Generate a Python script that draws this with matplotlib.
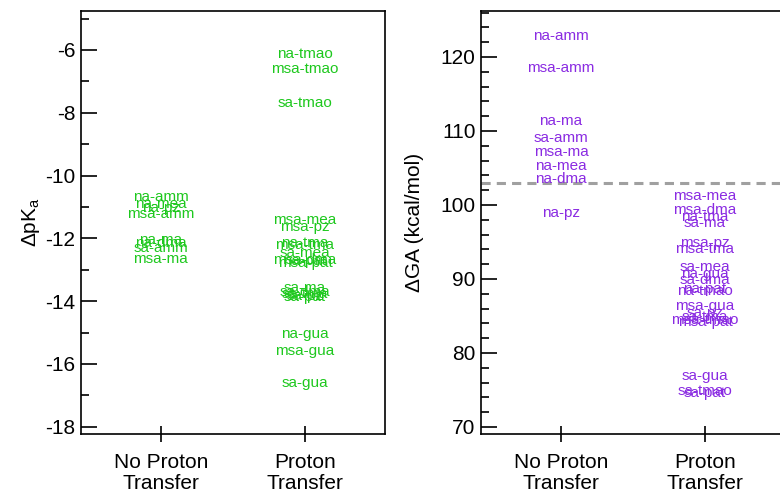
import matplotlib.pyplot as plt
from matplotlib.ticker import MultipleLocator

plt.rcParams['font.family'] = ['Liberation Sans', 'DejaVu Sans']
plt.rcParams['mathtext.fontset'] = 'custom'
plt.rcParams['mathtext.rm'] = 'Liberation Sans'
plt.rcParams['mathtext.it'] = 'Liberation Sans:italic'
plt.rcParams['axes.unicode_minus'] = False

categories = ['No Proton\nTransfer', 'Proton\nTransfer']

# delta pKa, clusters without / with proton transfer
pka_no_pt_names = ['na-amm', 'na-mea', 'na-pz', 'msa-amm',
                   'na-ma', 'na-dma', 'sa-amm', 'msa-ma']
pka_no_pt = [-10.68, -10.90, -11.03, -11.22, -12.05, -12.15, -12.31, -12.66]

pka_pt_names = ['na-tmao', 'msa-tmao', 'sa-tmao', 'msa-mea', 'msa-pz',
                'na-tma', 'msa-tma', 'sa-mea', 'msa-dma', 'na-pat', 'msa-pat',
                'sa-ma', 'sa-dma', 'sa-tma', 'sa-pz', 'sa-pat',
                'na-gua', 'msa-gua', 'sa-gua']
pka_pt = [-6.13, -6.61, -7.68, -11.43, -11.65,
          -12.15, -12.20, -12.47, -12.68, -12.72, -12.78,
          -13.59, -13.70, -13.78, -13.82, -13.86,
          -15.04, -15.58, -16.62]

# delta GA (kcal/mol)
ga_no_pt_names = ['na-amm', 'msa-amm', 'na-ma', 'sa-amm',
                  'msa-ma', 'na-mea', 'na-dma', 'na-pz']
ga_no_pt = [122.8, 118.5, 111.35, 109.1, 107.2, 105.3, 103.5, 98.9]

ga_pt_names = ['msa-mea', 'msa-dma', 'na-tma', 'sa-ma', 'msa-pz', 'msa-tma',
               'sa-mea', 'na-gua', 'sa-dma', 'na-pat', 'na-tmao',
               'msa-gua', 'sa-pz', 'sa-tma', 'msa-tmao', 'msa-pat',
               'sa-gua', 'sa-tmao', 'sa-pat']
ga_pt = [101.2, 99.3, 98.4, 97.6, 94.9, 94.1,
         91.6, 90.7, 89.9, 88.6, 88.4,
         86.3, 85.4, 84.9, 84.5, 84.2,
         76.9, 74.8, 74.6]

ga_threshold = 103.0

green = '#1ec81e'
purple = '#8a2be2'
fs = 15

fig = plt.figure(figsize=(7.8, 4.95), dpi=100)
ax1 = fig.add_axes([0.1038, 0.1232, 0.3897, 0.8545])
ax2 = fig.add_axes([0.6167, 0.1232, 0.3897, 0.8545])


def put_labels(ax, x, names, values, color):
    for name, v in zip(names, values):
        ax.text(x, v, name, ha='center', va='center', color=color,
                fontsize=11)


def style_axes(ax, major, minor):
    ax.set_xlim(-0.555, 1.555)
    ax.set_xticks([0, 1])
    ax.set_xticklabels(categories, fontsize=fs, linespacing=1.1)
    ax.yaxis.set_major_locator(MultipleLocator(major))
    ax.yaxis.set_minor_locator(MultipleLocator(minor))
    ax.tick_params(axis='y', which='major', direction='in', length=11.5,
                   width=1.2, labelsize=fs, pad=4)
    ax.tick_params(axis='y', which='minor', direction='in', length=6,
                   width=1.2)
    ax.tick_params(axis='x', direction='inout', length=11.5, width=1.2,
                   pad=8)
    for sp in ax.spines.values():
        sp.set_linewidth(1.2)


put_labels(ax1, 0, pka_no_pt_names, pka_no_pt, green)
put_labels(ax1, 1, pka_pt_names, pka_pt, green)
ax1.set_ylim(-18.23, -4.76)
style_axes(ax1, 2, 1)
ax1.set_ylabel(r'ΔpK$_\mathrm{a}$', fontsize=fs, labelpad=2)

put_labels(ax2, 0, ga_no_pt_names, ga_no_pt, purple)
put_labels(ax2, 1, ga_pt_names, ga_pt, purple)
ax2.axhline(ga_threshold, color='#a0a0a0', lw=2.2, ls=(0, (3, 2)))
ax2.set_ylim(69.05, 126.2)
style_axes(ax2, 10, 2)
ax2.set_ylabel('ΔGA (kcal/mol)', fontsize=fs, labelpad=12)

fig.savefig('out.png', dpi=100)
